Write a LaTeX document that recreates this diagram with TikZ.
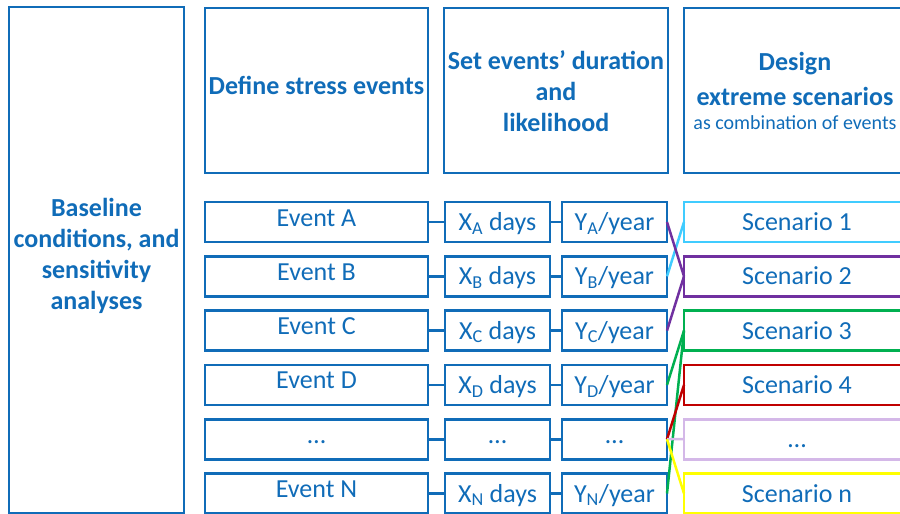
\documentclass[tikz,border=0pt]{standalone}
\usepackage{fontspec}
\setmainfont{Carlito}
\definecolor{mblue}{RGB}{16,108,184}
\definecolor{scyan}{RGB}{64,204,255}
\definecolor{spurple}{RGB}{112,48,160}
\definecolor{sgreen}{RGB}{0,176,80}
\definecolor{sred}{RGB}{192,0,0}
\definecolor{slav}{RGB}{212,184,232}
\definecolor{syellow}{RGB}{255,255,0}
\begin{document}
\begin{tikzpicture}[x=1pt,y=-1pt,
  box/.style={draw=mblue, line width=2.8pt, text=mblue, inner sep=0pt, outer sep=0pt,
    font=\fontsize{26}{31}\selectfont, align=center},
  frame/.style={draw=mblue, line width=2.8pt, inner sep=0pt, outer sep=0pt},
  htext/.style={text=mblue, font=\fontsize{26}{31}\selectfont\bfseries, align=center, inner sep=0pt},
  rowbox/.style={box, minimum height=40pt, text height=17pt, text depth=0pt},
  evbox/.style={box, minimum height=40pt, text height=8pt, text depth=0pt},
  scen/.style={rowbox, draw=#1, minimum width=226pt},
  link/.style={draw=mblue, line width=2.8pt},
  clink/.style={draw=#1, line width=2.5pt}]
\useasboundingbox (0,0) rectangle (900,514);
\clip (0,0) rectangle (900,514);
% left column
\node[frame, minimum width=175pt, minimum height=506pt] (base) at (96.5,260) {};
\node[htext] (basetxt) at (96.5,256) {Baseline\\conditions, and\\sensitivity\\analyses};
% headers
\node[frame, minimum width=223pt, minimum height=165pt] (h1) at (316.5,90.5) {};
\node[htext] (h1t) at (316.5,85) {Define stress events};
\node[frame, minimum width=224pt, minimum height=165pt] (h2) at (556,90.5) {};
\node[htext] (h2t) at (556,91) {Set events’ duration\\and\\likelihood};
\node[frame, minimum width=226pt, minimum height=165pt] (h3) at (797,90.5) {};
\node[htext] (h3a) at (795,64) {Design};
\node[htext] (h3b) at (795,96) {extreme scenarios};
\node[text=mblue, font=\fontsize{20}{24}\selectfont, inner sep=0pt] (h3c) at (795,123) {as combination of events};
% rows
\foreach \n/\lab/\sub [count=\i from 0] in {A/Event A/A, B/Event B/B, C/Event C/C, D/Event D/D, E/…/, N/Event N/N}{
  \pgfmathsetmacro{\yc}{222+54.3*\i}
  \node[evbox, minimum width=223pt] (e\n) at (316.5,\yc) {\lab};
  \ifx\sub\empty
    \node[evbox, minimum width=105pt] (x\n) at (497.5,\yc) {…};
    \node[evbox, minimum width=105pt] (y\n) at (614.5,\yc) {…};
  \else
    \node[rowbox, minimum width=105pt] (x\n) at (497.5,\yc) {X\textsubscript{\sub} days};
    \node[rowbox, minimum width=105pt] (y\n) at (614.5,\yc) {Y\textsubscript{\sub}/year};
  \fi
  \draw[link] (e\n.east) -- (x\n.west);
  \draw[link] (x\n.east) -- (y\n.west);
}
% scenarios
\node[scen=scyan] (s1) at (797,222) {Scenario 1};
\node[scen=spurple] (s2) at (797,276.3) {Scenario 2};
\node[scen=sgreen] (s3) at (797,330.6) {Scenario 3};
\node[scen=sred] (s4) at (797,384.9) {Scenario 4};
\node[scen=slav] (s5) at (797,439.2) {…};
\node[scen=syellow] (s6) at (797,493.5) {Scenario n};
% colored connectors
\draw[clink=scyan] (yB.east) -- (s1.west);
\draw[clink=spurple] (yA.east) -- (s2.west);
\draw[clink=spurple] (yC.east) -- (s2.west);
\draw[clink=sgreen] (yD.east) -- (s3.west);
\draw[clink=sgreen] (yN.east) -- (s3.west);
\draw[clink=sred] (yE.east) -- (s4.west);
\draw[clink=slav] (yE.east) -- (s5.west);
\draw[clink=syellow] (yE.east) -- (s6.west);
\end{tikzpicture}
\end{document}
